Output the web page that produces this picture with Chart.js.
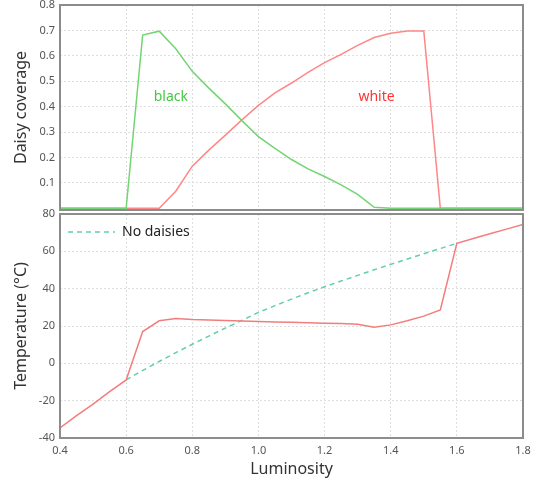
<!DOCTYPE html>
<html>
<head>
<meta charset="utf-8">
<script src="https://cdn.jsdelivr.net/npm/chart.js@4.4.1/dist/chart.umd.min.js"></script>
<style>
  html, body { margin: 0; padding: 0; background: #fff; }
  #top { position: absolute; left: 0; top: 0; width: 533px; height: 212px; }
  #bottom { position: absolute; left: 0; top: 200px; width: 533px; height: 283px; }
</style>
</head>
<body>
<div id="top"><canvas id="coverChart"></canvas></div>
<div id="bottom"><canvas id="tempChart"></canvas></div>
<script>
// Daisyworld: coverage and temperature against luminosity

const luminosity = [0.4, 0.45, 0.5, 0.55, 0.6, 0.65, 0.7, 0.75, 0.8, 0.85, 0.9, 0.95, 1.0, 1.05, 1.1,
  1.15, 1.2, 1.25, 1.3, 1.35, 1.4, 1.45, 1.5, 1.55, 1.6, 1.65, 1.7, 1.75, 1.8];

const blackCover = [0, 0, 0, 0, 0, 0.682, 0.697, 0.628, 0.539, 0.473, 0.411, 0.345, 0.282, 0.236, 0.192,
  0.155, 0.125, 0.092, 0.055, 0.004, 0, 0, 0, 0, 0, 0, 0, 0, 0];

const whiteCover = [0, 0, 0, 0, 0, 0, 0, 0.067, 0.166, 0.229, 0.288, 0.348, 0.405, 0.454, 0.493,
  0.535, 0.573, 0.606, 0.641, 0.672, 0.689, 0.698, 0.698, 0, 0, 0, 0, 0, 0];

const tempDaisies = [-34.6, -28, -21.8, -15.2, -8.9, 17.0, 22.8, 24.0, 23.5, 23.2, 23.0, 22.7, 22.4, 22.2, 22.0,
  21.8, 21.5, 21.3, 20.9, 19.3, 20.6, 22.8, 25.3, 28.6, 64.3, 66.9, 69.4, 71.9, 74.4];

const tempNoDaisies = [null, null, null, null, -8.9, -3.8, 1.0, 5.7, 10.2, 14.6, 18.9, 23.0, 27.3, 30.9, 34.4,
  37.8, 41.0, 44.1, 47.1, 50.1, 53.0, 55.9, 58.7, 61.5, 64.3, null, null, null, null];

const lumTicks = [0.4, 0.6, 0.8, 1.0, 1.2, 1.4, 1.6, 1.8];
const coverTicks = [0.1, 0.2, 0.3, 0.4, 0.5, 0.6, 0.7, 0.8];
const tempTicks = [-40, -20, 0, 20, 40, 60, 80];

// text labels written inside the top panel (data coordinates)
const coverLabels = [
  { text: 'black', x: 0.735, y: 0.438, color: '#44c944' },
  { text: 'white', x: 1.357, y: 0.438, color: '#ff3333' }
];

Chart.defaults.font.family = "'Noto Sans', sans-serif";
Chart.defaults.animation = false;

const pts = ys => luminosity.map((x, i) => ({ x: x, y: ys[i] }));
const setTicks = list => scale => { scale.ticks = list.map(v => ({ value: v })); };

const gridOpts = { color: '#dedede', drawTicks: false };
const borderOpts = { display: false, dash: [2, 2] };
const tickFont = { size: 11 };

// grey frame round the plot area
const boxPlugin = {
  id: 'box',
  afterDatasetsDraw(chart) {
    const { ctx, chartArea: a } = chart;
    ctx.save();
    ctx.strokeStyle = '#8c8c8c';
    ctx.lineWidth = 2;
    ctx.strokeRect(a.left, a.top, a.right - a.left, a.bottom - a.top);
    ctx.restore();
  }
};

const labelPlugin = {
  id: 'coverLabels',
  afterDatasetsDraw(chart) {
    const { ctx, scales } = chart;
    ctx.save();
    ctx.font = "14px 'Noto Sans', sans-serif";
    ctx.textAlign = 'center';
    ctx.textBaseline = 'middle';
    coverLabels.forEach(l => {
      ctx.fillStyle = l.color;
      ctx.fillText(l.text, scales.x.getPixelForValue(l.x), scales.y.getPixelForValue(l.y));
    });
    ctx.restore();
  }
};

const legendPlugin = {
  id: 'noDaisiesLegend',
  afterDatasetsDraw(chart) {
    const { ctx, chartArea: a } = chart;
    const ds = chart.data.datasets[1];
    const y = a.top + 18;
    ctx.save();
    ctx.strokeStyle = ds.borderColor;
    ctx.lineWidth = ds.borderWidth;
    ctx.setLineDash(ds.borderDash);
    ctx.beginPath();
    ctx.moveTo(a.left + 8, y);
    ctx.lineTo(a.left + 55, y);
    ctx.stroke();
    ctx.setLineDash([]);
    ctx.fillStyle = '#222';
    ctx.font = "14px 'Noto Sans', sans-serif";
    ctx.textBaseline = 'middle';
    ctx.fillText(ds.label, a.left + 62, y);
    ctx.restore();
  }
};

// Daisy coverage panel
const coverChart = new Chart(document.getElementById('coverChart'), {
  type: 'line',
  data: {
    datasets: [
      { label: 'black', data: pts(blackCover), borderColor: 'rgb(115, 212, 115)', borderWidth: 1.5 },
      { label: 'white', data: pts(whiteCover), borderColor: 'rgb(255, 135, 135)', borderWidth: 1.5 }
    ]
  },
  options: {
    responsive: true,
    maintainAspectRatio: false,
    layout: { padding: { top: 5, right: 10, bottom: 2, left: 0 } },
    elements: { point: { radius: 0 }, line: { tension: 0 } },
    plugins: { legend: { display: false }, tooltip: { enabled: false } },
    scales: {
      x: {
        type: 'linear', min: 0.4, max: 1.8,
        afterBuildTicks: setTicks(lumTicks),
        ticks: { display: false },
        grid: gridOpts, border: borderOpts,
        afterFit: s => { s.height = 0; s.paddingLeft = 0; s.paddingRight = 0; }
      },
      y: {
        min: -0.0067, max: 0.8,
        afterBuildTicks: setTicks(coverTicks),
        ticks: { font: tickFont, color: '#555', padding: 5, callback: v => v.toFixed(1) },
        grid: gridOpts, border: borderOpts,
        title: { display: true, text: 'Daisy coverage', font: { size: 16 }, color: '#333', padding: { top: 12, bottom: 0 } },
        afterFit: s => { s.width = 60; s.paddingTop = 0; s.paddingBottom = 0; }
      }
    }
  },
  plugins: [boxPlugin, labelPlugin]
});

// Temperature panel
const tempChart = new Chart(document.getElementById('tempChart'), {
  type: 'line',
  data: {
    datasets: [
      { label: 'Daisies', data: pts(tempDaisies), borderColor: 'rgb(242, 125, 125)', borderWidth: 1.5 },
      { label: 'No daisies', data: pts(tempNoDaisies), borderColor: 'rgb(100, 205, 175)', borderWidth: 1.5, borderDash: [5, 4] }
    ]
  },
  options: {
    responsive: true,
    maintainAspectRatio: false,
    layout: { padding: { top: 14, right: 10, bottom: 0, left: 0 } },
    elements: { point: { radius: 0 }, line: { tension: 0 } },
    plugins: { legend: { display: false }, tooltip: { enabled: false } },
    scales: {
      x: {
        type: 'linear', min: 0.4, max: 1.8,
        afterBuildTicks: setTicks(lumTicks),
        ticks: { font: tickFont, color: '#555', padding: 6, maxRotation: 0, callback: v => v.toFixed(1) },
        grid: gridOpts, border: borderOpts,
        title: { display: true, text: 'Luminosity', font: { size: 16 }, color: '#333', padding: { top: 0, bottom: 4 } },
        afterFit: s => { s.height = 45; s.paddingLeft = 0; s.paddingRight = 0; }
      },
      y: {
        min: -40, max: 80,
        afterBuildTicks: setTicks(tempTicks),
        ticks: { font: tickFont, color: '#555', padding: 5 },
        grid: gridOpts, border: borderOpts,
        title: { display: true, text: 'Temperature (°C)', font: { size: 16 }, color: '#333', padding: { top: 12, bottom: 0 } },
        afterFit: s => { s.width = 60; s.paddingTop = 0; s.paddingBottom = 0; }
      }
    }
  },
  plugins: [boxPlugin, legendPlugin]
});
</script>
</body>
</html>
